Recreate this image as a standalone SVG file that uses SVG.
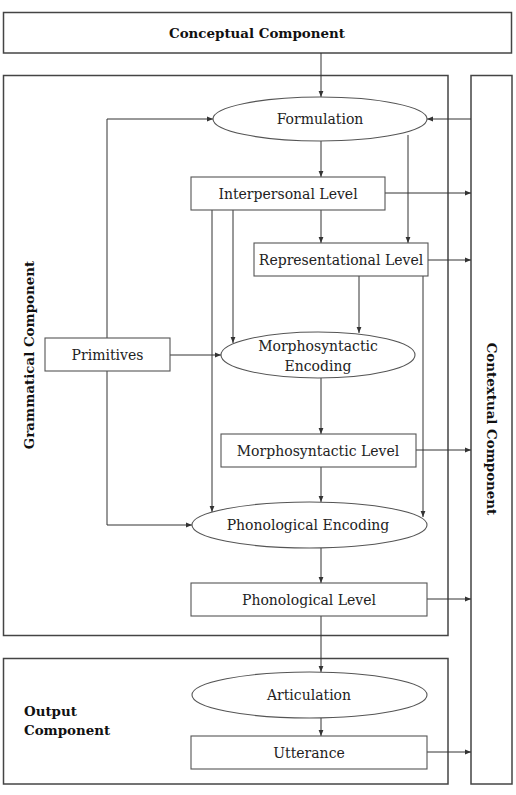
<svg xmlns="http://www.w3.org/2000/svg" width="516" height="795" viewBox="0 0 516 795">
<defs>
<marker id="ah" viewBox="0 0 10 10" refX="10" refY="5" markerWidth="6" markerHeight="6" orient="auto" markerUnits="userSpaceOnUse">
<path d="M0,1 L10,5 L0,9 Z" fill="#333"/>
</marker>
<style>
.frame{fill:#fff;stroke:#444;stroke-width:1.5}
.box{fill:#fff;stroke:#555;stroke-width:1.1}
.t{font-family:"DejaVu Serif","Liberation Serif",serif;font-size:14px;fill:#222;text-anchor:middle;dominant-baseline:central}
.b{font-family:"DejaVu Serif","Liberation Serif",serif;font-size:13.4px;font-weight:bold;fill:#111}
.c line,.c polyline{stroke:#333;stroke-width:1;fill:none}
.a{marker-end:url(#ah)}
</style>
</defs>
<rect width="516" height="795" fill="#fff"/>

<g id="conceptual">
<rect class="frame" x="3.5" y="12.5" width="508" height="40.5"/>
<text class="b" x="257" y="32.5" text-anchor="middle" dominant-baseline="central">Conceptual Component</text>
</g>
<g id="grammatical">
<rect class="frame" x="3.5" y="75.5" width="444.5" height="560"/>
<text class="b" transform="translate(29,355) rotate(-90)" text-anchor="middle" dominant-baseline="central">Grammatical Component</text>
</g>
<g id="output">
<rect class="frame" x="3.5" y="658.5" width="444.5" height="125.5"/>
<text class="b" x="24" y="711" dominant-baseline="central">Output</text>
<text class="b" x="24" y="730" dominant-baseline="central">Component</text>
</g>
<g id="contextual">
<rect class="frame" x="471" y="75.5" width="41" height="708.5"/>
<text class="b" transform="translate(492,429) rotate(90)" text-anchor="middle" dominant-baseline="central">Contextual Component</text>
</g>

<g id="connectors" class="c">
<line class="a" x1="321" y1="53" x2="321" y2="97"/>
<polyline class="a" points="107,338 107,119 213,119"/>
<polyline class="a" points="107,371 107,525 192,525"/>
<line class="a" x1="471" y1="119" x2="427" y2="119"/>
<line class="a" x1="408" y1="135" x2="408" y2="243"/>
<line class="a" x1="321" y1="141" x2="321" y2="177"/>
<line class="a" x1="385" y1="193" x2="471" y2="193"/>
<line class="a" x1="321" y1="210" x2="321" y2="243"/>
<line class="a" x1="233" y1="210" x2="233" y2="343"/>
<line class="a" x1="212" y1="210" x2="212" y2="512"/>
<line class="a" x1="428" y1="260" x2="471" y2="260"/>
<line class="a" x1="359" y1="276" x2="359" y2="333"/>
<line class="a" x1="423" y1="276" x2="423" y2="517"/>
<line class="a" x1="170" y1="355" x2="221" y2="355"/>
<line class="a" x1="321" y1="378" x2="321" y2="434"/>
<line class="a" x1="416" y1="450" x2="471" y2="450"/>
<line class="a" x1="321" y1="467" x2="321" y2="502"/>
<line class="a" x1="321" y1="548" x2="321" y2="583"/>
<line class="a" x1="427" y1="599" x2="471" y2="599"/>
<line class="a" x1="321" y1="616" x2="321" y2="672"/>
<line class="a" x1="321" y1="718" x2="321" y2="736"/>
<line class="a" x1="427" y1="752" x2="471" y2="752"/>
</g>

<g id="formulation">
<ellipse class="box" cx="320" cy="119" rx="107" ry="22"/>
<text class="t" x="320" y="119">Formulation</text>
</g>
<g id="interpersonal">
<rect class="box" x="191" y="177" width="194" height="33"/>
<text class="t" x="288" y="193.5">Interpersonal Level</text>
</g>
<g id="representational">
<rect class="box" x="254" y="243" width="174" height="33"/>
<text class="t" x="341" y="259.5">Representational Level</text>
</g>
<g id="primitives">
<rect class="box" x="45" y="338" width="125" height="33"/>
<text class="t" x="107.5" y="354.5">Primitives</text>
</g>
<g id="morph-encoding">
<ellipse class="box" cx="318" cy="355" rx="97" ry="23"/>
<text class="t" x="318" y="346">Morphosyntactic</text>
<text class="t" x="318" y="366">Encoding</text>
</g>
<g id="morph-level">
<rect class="box" x="221" y="434" width="195" height="33"/>
<text class="t" x="318" y="450.5">Morphosyntactic Level</text>
</g>
<g id="phon-encoding">
<ellipse class="box" cx="309.5" cy="525" rx="117.5" ry="23"/>
<text class="t" x="308" y="525">Phonological Encoding</text>
</g>
<g id="phon-level">
<rect class="box" x="191" y="583" width="236" height="33"/>
<text class="t" x="309" y="599.5">Phonological Level</text>
</g>
<g id="articulation">
<ellipse class="box" cx="309.5" cy="695" rx="117.5" ry="23"/>
<text class="t" x="309" y="695">Articulation</text>
</g>
<g id="utterance">
<rect class="box" x="191" y="736" width="236" height="33"/>
<text class="t" x="309" y="752.5">Utterance</text>
</g>
</svg>
